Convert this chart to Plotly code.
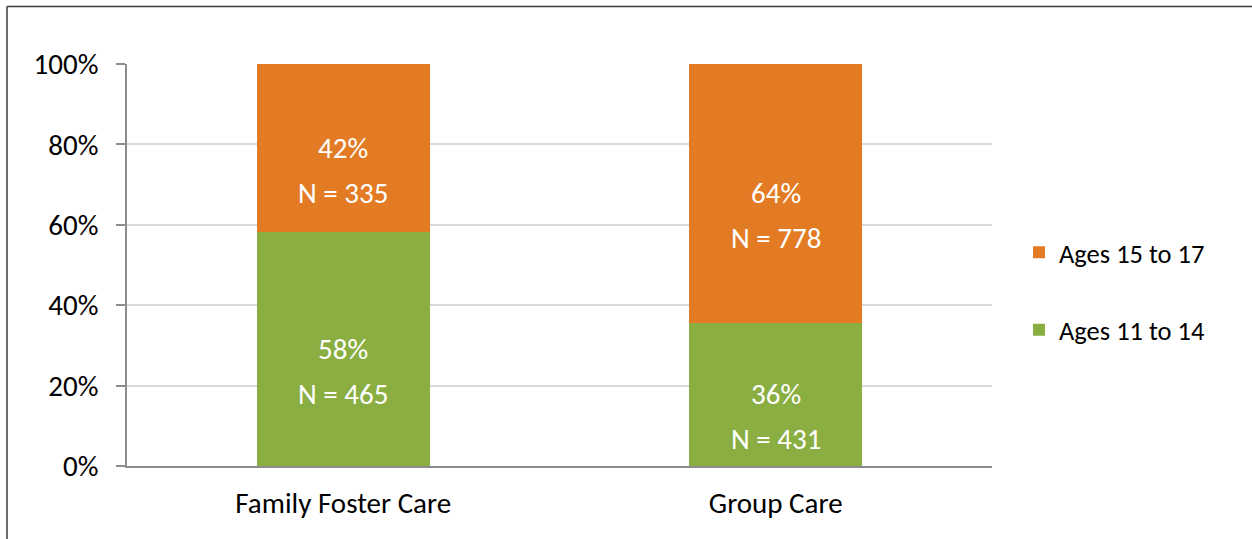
import plotly.graph_objects as go

categories = ["Family Foster Care", "Group Care"]
series_names = ["Ages 11 to 14", "Ages 15 to 17"]
pct_11_14 = [58.1, 35.6]
pct_15_17 = [41.9, 64.4]
n_11_14 = [465, 431]
n_15_17 = [335, 778]
pct_labels_11_14 = ["58%", "36%"]
pct_labels_15_17 = ["42%", "64%"]
y_ticks = [0, 20, 40, 60, 80, 100]
y_tick_labels = ["0%", "20%", "40%", "60%", "80%", "100%"]

GREEN = "#8AAE42"
ORANGE = "#E27B24"
FONT = "Carlito, Calibri, Lato, sans-serif"
FS = 29

fig = go.Figure()
fig.add_trace(go.Bar(x=categories, y=pct_11_14, name=series_names[0],
                     marker=dict(color=GREEN, line=dict(width=0)),
                     legendgroup="g1", legendrank=2, hoverinfo="skip"))
fig.add_trace(go.Bar(x=categories, y=pct_15_17, name=series_names[1],
                     marker=dict(color=ORANGE, line=dict(width=0)),
                     legendgroup="g2", legendrank=1, hoverinfo="skip"))

annotations = []
for i, cat in enumerate(categories):
    segs = [
        (0, pct_11_14[i], pct_labels_11_14[i], n_11_14[i]),
        (pct_11_14[i], pct_15_17[i], pct_labels_15_17[i], n_15_17[i]),
    ]
    for base, val, plab, n in segs:
        yc = base + val / 2
        annotations.append(dict(x=cat, y=yc, xref="x", yref="y", text=plab,
                                showarrow=False, font=dict(family=FONT, size=FS, color="white")))
        annotations.append(dict(x=cat, y=yc, xref="x", yref="y", text=f"N = {n}",
                                yshift=-45, showarrow=False,
                                font=dict(family=FONT, size=FS, color="white")))

L, R, T, B = 127, 260, 64, 73
W, H = 1252, 539
pw, ph = W - L - R, H - T - B
bx = (7 - L) / pw
by = (H - B - 6.5) / ph

shapes = [
    dict(type="line", xref="paper", yref="paper", x0=bx, x1=bx, y0=-0.3, y1=by,
         line=dict(color="#3A3A3A", width=1.5)),
    dict(type="line", xref="paper", yref="paper", x0=bx, x1=1.4, y0=by, y1=by,
         line=dict(color="#3A3A3A", width=1.5)),
]

fig.update_layout(
    width=W, height=H,
    margin=dict(l=L, r=R, t=T, b=B),
    barmode="stack", bargap=0.6,
    plot_bgcolor="white", paper_bgcolor="white",
    font=dict(family=FONT, size=FS, color="black"),
    showlegend=True,
    legend=dict(x=1.0 + (1019 - (L + pw)) / pw, xanchor="left",
                y=0.435, yanchor="middle",
                traceorder="grouped", tracegroupgap=40,
                font=dict(family=FONT, size=26.5, color="black"),
                bgcolor="rgba(0,0,0,0)"),
    xaxis=dict(showline=True, linecolor="#8C8C8C", linewidth=1.5,
               ticks="", showgrid=False, ticklabelstandoff=10,
               tickfont=dict(family=FONT, size=FS, color="black")),
    yaxis=dict(range=[0, 100], tickvals=y_ticks, ticktext=y_tick_labels,
               showline=True, linecolor="#8C8C8C", linewidth=1.5,
               ticks="outside", ticklen=9, tickcolor="#8C8C8C", tickwidth=1.5,
               showgrid=True, gridcolor="#D9D9D9", gridwidth=1.5,
               ticklabelstandoff=12, zeroline=False,
               tickfont=dict(family=FONT, size=FS, color="black")),
    annotations=annotations,
    shapes=shapes,
)

fig.write_html("out.html", config={"displayModeBar": False},
               post_script="document.body.style.margin='0';document.body.style.overflow='hidden';")
